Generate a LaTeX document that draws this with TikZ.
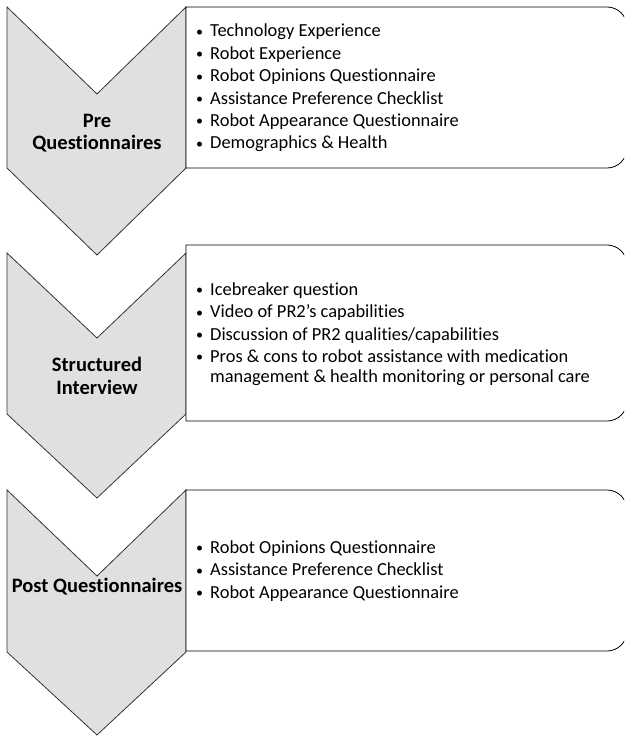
\documentclass[tikz,border=0pt]{standalone}
\usepackage{fontspec}
\setmainfont{Carlito}[Ligatures = NoCommon]
\usepackage{tikz}
\usetikzlibrary{positioning}
\definecolor{stepgray}{RGB}{224,224,224}

\begin{document}
\begin{tikzpicture}[x=1pt, y=-1pt, font=\fontsize{18.4}{22.4}\selectfont]%
            \tikzstyle{chev} = [draw = black!80, fill = stepgray, line width = 0.8pt, line join = miter]
            \tikzstyle{card} = [draw = black!100, fill = white, line width = 0.8pt]
            \tikzstyle{head} = [font = \bfseries\fontsize{20.5}{22.5}\selectfont, align = center, inner sep = 0pt]
            \tikzstyle{items} = [align = left, anchor = west, inner sep = 0pt]
            \newcommand{\bul}{\makebox[15pt][l]{\hspace{1pt}\raisebox{0.6pt}{\fontsize{14}{14}\selectfont\textbullet}}}
            \newcommand{\hang}{\hspace{15pt}}
        %%
            \useasboundingbox (0,0) rectangle (624,736);
            \begin{scope}
                \clip (0,0) rectangle (624,736);
                %% Chevrons
                \draw[chev] (7,7) -- (97,94) -- (186,7) -- (186,168) -- (97,255) -- (7,168) -- cycle;
                \draw[chev] (7,253) -- (97,338) -- (186,253) -- (186,414) -- (97,498) -- (7,414) -- cycle;
                \draw[chev] (7,490) -- (97,576) -- (186,490) -- (186,652) -- (97,735) -- (7,652) -- cycle;

                %% Boxes
                \draw[card] (186,7) -- (607,7) arc[start angle = -90, end angle = 0, radius = 20] -- (627,148) arc[start angle = 0, end angle = 90, radius = 20] -- (186,168) -- cycle;
                \draw[card] (186,245) -- (607,245) arc[start angle = -90, end angle = 0, radius = 20] -- (627,401) arc[start angle = 0, end angle = 90, radius = 20] -- (186,421) -- cycle;
                \draw[card] (186,490) -- (607,490) arc[start angle = -90, end angle = 0, radius = 20] -- (627,631) arc[start angle = 0, end angle = 90, radius = 20] -- (186,651) -- cycle;
            \end{scope}

            %% Phase titles
            \node[head] (pre) at (97,133) {Pre\\Questionnaires};
            \node[head] (interview) at (97,376) {Structured\\Interview};
            \node[head] (post) at (97,587) {Post Questionnaires};

            %% Phase contents
            \node[items] (pre_list) at (195,88) {\bul Technology Experience\\
                \bul Robot Experience\\
                \bul Robot Opinions Questionnaire\\
                \bul Assistance Preference Checklist\\
                \bul Robot Appearance Questionnaire\\
                \bul Demographics \& Health};
            \node[items] (interview_list) at (195,334) {\bul Icebreaker question\\
                \bul Video of PR2’s capabilities\\
                \bul Discussion of PR2 qualities/capabilities\\
                \bul Pros \& cons to robot assistance with medication\\[-2.4pt]
                \hang management \& health monitoring or personal care};
            \node[items] (post_list) at (195,571) {\bul Robot Opinions Questionnaire\\
                \bul Assistance Preference Checklist\\
                \bul Robot Appearance Questionnaire};
        \end{tikzpicture}
\end{document}
